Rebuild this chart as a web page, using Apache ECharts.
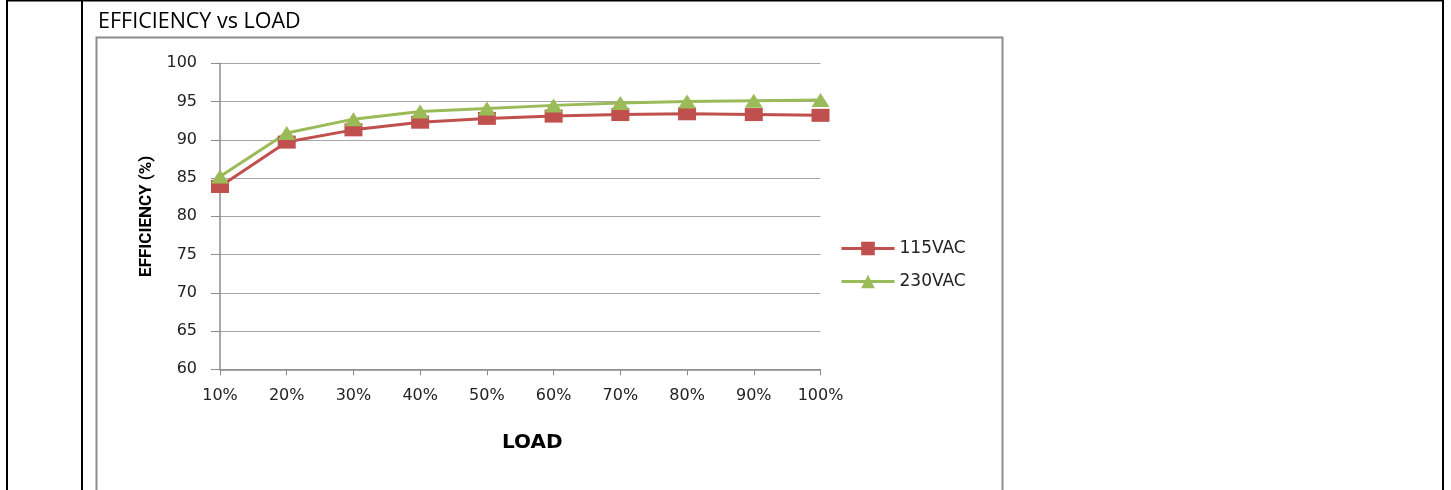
<!DOCTYPE html>
<html>
<head>
<meta charset="utf-8">
<script src="https://cdn.jsdelivr.net/npm/echarts@6/dist/echarts.min.js"></script>
<style>
html,body{margin:0;padding:0;background:#fff;}
#c{width:1451px;height:490px;}
</style>
</head>
<body>
<div id="c"></div>
<script>
var categories = ['10%','20%','30%','40%','50%','60%','70%','80%','90%','100%'];
var vac115 = [83.9, 89.7, 91.3, 92.3, 92.8, 93.1, 93.3, 93.4, 93.3, 93.2];
var vac230 = [85.2, 90.9, 92.7, 93.7, 94.1, 94.5, 94.8, 95.0, 95.1, 95.2];
var yTicks = [60, 65, 70, 75, 80, 85, 90, 95, 100];

var chart = echarts.init(document.getElementById('c'));
var tickFont = 'DejaVu Sans';
chart.setOption({
  animation: false,
  backgroundColor: '#fff',
  title: {
    text: 'EFFICIENCY vs LOAD',
    left: 93, top: 6,
    textStyle: {fontFamily: 'Open Sans', fontSize: 21.5, fontWeight: 'normal', color: '#000'}
  },
  graphic: [
    {type: 'line', shape: {x1: 7, y1: 0.5, x2: 1444, y2: 0.5}, style: {stroke: '#000', lineWidth: 2}},
    {type: 'line', shape: {x1: 7, y1: 0, x2: 7, y2: 490}, style: {stroke: '#000', lineWidth: 2}},
    {type: 'line', shape: {x1: 82, y1: 0, x2: 82, y2: 490}, style: {stroke: '#000', lineWidth: 2}},
    {type: 'line', shape: {x1: 1443, y1: 0, x2: 1443, y2: 490}, style: {stroke: '#000', lineWidth: 2}},
    {type: 'rect', shape: {x: 96.5, y: 37.5, width: 906, height: 470}, style: {fill: 'none', stroke: '#8c8c8c', lineWidth: 2}}
  ],
  grid: {left: 220, right: 630.5, top: 63.3, bottom: 120.7, containLabel: false},
  legend: {
    orient: 'vertical',
    left: 840, top: 240, padding: 0,
    itemWidth: 53, itemHeight: 17, itemGap: 16,
    lineStyle: {width: 3},
    textStyle: {fontFamily: tickFont, fontSize: 17, color: '#222'},
    data: ['115VAC', '230VAC']
  },
  xAxis: {
    type: 'category',
    data: categories,
    boundaryGap: false,
    name: 'LOAD',
    nameLocation: 'middle',
    nameGap: 63,
    nameTextStyle: {fontFamily: tickFont, fontSize: 20, fontWeight: 'bold', color: '#000', padding: [0,0,0,24]},
    axisLine: {lineStyle: {color: '#8c8c8c', width: 1.5}},
    axisTick: {show: true, alignWithLabel: true, length: 6, lineStyle: {color: '#8c8c8c'}},
    axisLabel: {fontFamily: tickFont, fontSize: 16, color: '#222', margin: 19},
    splitLine: {show: false}
  },
  yAxis: {
    type: 'value',
    min: 60, max: 100, interval: 5,
    name: 'EFFICIENCY (%)',
    nameLocation: 'middle',
    nameGap: 65,
    nameTextStyle: {fontFamily: 'Roboto', fontSize: 17, fontWeight: 'bold', color: '#000'},
    axisLine: {show: true, lineStyle: {color: '#8c8c8c', width: 1.5}},
    axisTick: {show: true, length: 9, lineStyle: {color: '#8c8c8c'}},
    axisLabel: {fontFamily: tickFont, fontSize: 16, color: '#222', margin: 23,
      formatter: function (v) { return yTicks.indexOf(v) >= 0 ? String(v) : ''; }},
    splitLine: {show: true, lineStyle: {color: '#a6a6a6', width: 1.2}}
  },
  series: [
    {
      name: '115VAC', type: 'line', data: vac115,
      symbol: 'rect', symbolSize: [18, 13],
      lineStyle: {color: '#C0504D', width: 3},
      itemStyle: {color: '#C0504D'}
    },
    {
      name: '230VAC', type: 'line', data: vac230,
      symbol: 'triangle', symbolSize: [18, 14],
      lineStyle: {color: '#9BBB59', width: 3},
      itemStyle: {color: '#9BBB59'}
    }
  ]
});
</script>
</body>
</html>
